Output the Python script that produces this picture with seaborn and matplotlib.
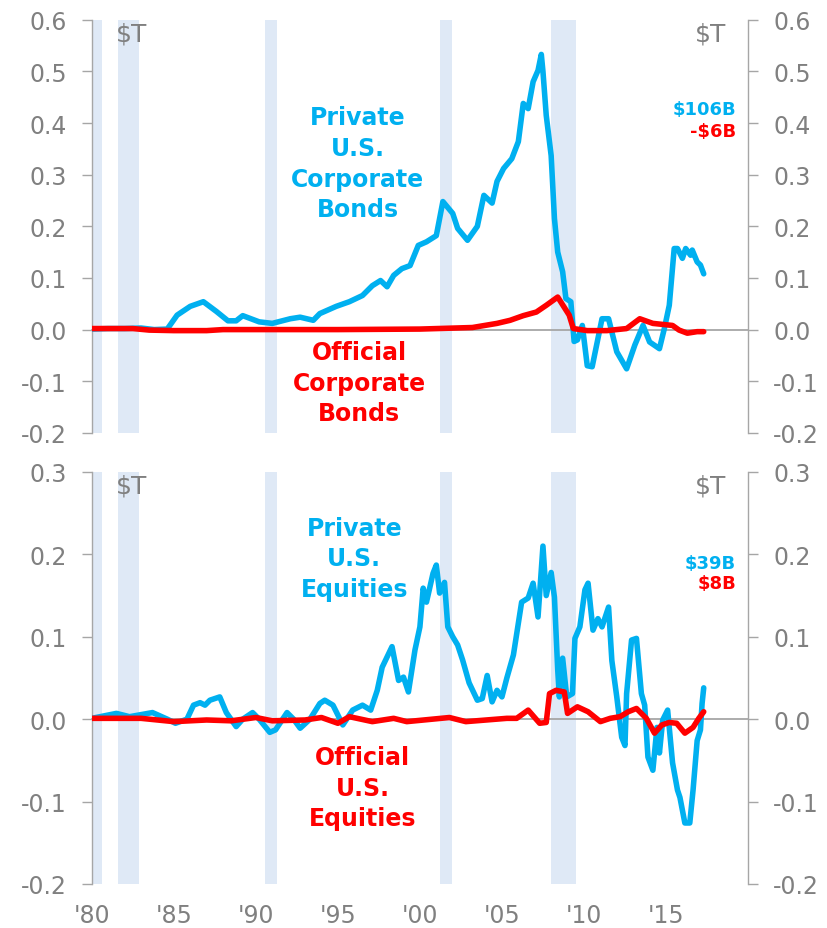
import numpy as np
import pandas as pd
import matplotlib
matplotlib.use("Agg")
import matplotlib.pyplot as plt
import seaborn as sns

# values, in $T
bond_priv_years = [1980.0, 1981.0, 1982.0, 1983.0, 1983.8, 1984.6, 1985.2, 1986.0, 1986.8, 1987.6,
                   1988.3, 1988.8, 1989.2, 1990.2, 1991.0, 1992.1, 1992.7, 1993.5, 1993.9, 1994.9,
                   1995.7, 1996.5, 1997.1, 1997.6, 1998.0, 1998.4, 1998.9, 1999.4, 1999.9, 2000.4,
                   2001.0, 2001.4, 2002.0, 2002.3, 2002.9, 2003.5, 2003.9, 2004.4, 2004.7, 2005.1,
                   2005.6, 2006.0, 2006.3, 2006.6, 2006.9, 2007.2, 2007.4, 2007.5, 2007.7, 2008.0,
                   2008.2, 2008.4, 2008.7, 2008.9, 2009.2, 2009.4, 2009.6, 2009.9, 2010.2, 2010.5,
                   2011.1, 2011.5, 2012.0, 2012.6, 2013.1, 2013.6, 2014.0, 2014.6, 2014.9, 2015.2,
                   2015.5, 2015.7, 2016.0, 2016.2, 2016.5, 2016.6, 2016.9, 2017.1, 2017.3]
bond_priv = [0.001, 0.002, 0.002, 0.003, 0.000, 0.001, 0.028, 0.045, 0.054, 0.035,
             0.017, 0.017, 0.027, 0.015, 0.012, 0.021, 0.024, 0.018, 0.031, 0.045,
             0.054, 0.066, 0.085, 0.095, 0.083, 0.105, 0.118, 0.124, 0.163, 0.170,
             0.182, 0.248, 0.225, 0.196, 0.173, 0.200, 0.260, 0.245, 0.287, 0.312,
             0.331, 0.364, 0.438, 0.428, 0.480, 0.502, 0.533, 0.500, 0.415, 0.337,
             0.215, 0.150, 0.112, 0.060, 0.054, -0.023, -0.020, 0.008, -0.070, -0.072,
             0.021, 0.021, -0.043, -0.076, -0.030, 0.008, -0.024, -0.037, 0.002, 0.047,
             0.157, 0.157, 0.138, 0.157, 0.144, 0.154, 0.131, 0.125, 0.108]

bond_off_years = [1980.0, 1982.5, 1983.5, 1985.0, 1987.0, 1988.0, 1995.0, 2000.0, 2003.2, 2004.7,
                  2005.5, 2006.3, 2007.1, 2007.7, 2008.4, 2009.1, 2009.35, 2010.2, 2011.4, 2012.6,
                  2013.4, 2014.2, 2014.8, 2015.4, 2015.8, 2016.3, 2016.9, 2017.3]
bond_off = [0.002, 0.002, -0.001, -0.002, -0.002, 0.000, 0.000, 0.001, 0.004, 0.012,
            0.018, 0.027, 0.034, 0.047, 0.063, 0.028, 0.002, -0.002, -0.002, 0.002,
            0.021, 0.012, 0.010, 0.008, -0.001, -0.007, -0.004, -0.004]

eq_priv_years = [1980.0, 1981.5, 1982.3, 1983.7, 1984.6, 1985.1, 1985.8, 1986.2, 1986.6, 1986.9,
                 1987.2, 1987.8, 1988.2, 1988.8, 1989.2, 1989.8, 1990.2, 1990.85, 1991.2, 1991.9,
                 1992.3, 1992.7, 1993.3, 1993.9, 1994.2, 1994.7, 1995.3, 1995.9, 1996.5, 1997.0,
                 1997.4, 1997.7, 1998.3, 1998.7, 1999.0, 1999.3, 1999.7, 2000.0, 2000.2, 2000.4,
                 2000.8, 2001.0, 2001.2, 2001.5, 2001.7, 2002.0, 2002.3, 2002.6, 2003.0, 2003.5,
                 2003.8, 2004.1, 2004.4, 2004.7, 2005.0, 2005.3, 2005.7, 2006.2, 2006.6, 2006.9,
                 2007.2, 2007.5, 2007.7, 2008.0, 2008.2, 2008.4, 2008.5, 2008.7, 2008.95, 2009.3,
                 2009.45, 2009.75, 2010.06, 2010.25, 2010.55, 2010.85, 2011.1, 2011.5, 2011.7, 2012.0,
                 2012.3, 2012.5, 2012.6, 2012.9, 2013.2, 2013.5, 2013.7, 2013.9, 2014.2, 2014.45,
                 2014.6, 2014.8, 2015.1, 2015.4, 2015.7, 2015.85, 2016.15, 2016.45, 2016.65, 2016.9,
                 2017.1, 2017.2, 2017.3]
eq_priv = [0.001, 0.007, 0.003, 0.008, 0.000, -0.005, 0.000, 0.017, 0.020, 0.017,
           0.023, 0.027, 0.008, -0.009, 0.000, 0.008, 0.000, -0.016, -0.013, 0.008,
           0.000, -0.011, 0.000, 0.019, 0.023, 0.017, -0.007, 0.011, 0.017, 0.011,
           0.035, 0.063, 0.088, 0.047, 0.051, 0.033, 0.084, 0.112, 0.159, 0.142,
           0.177, 0.187, 0.153, 0.166, 0.112, 0.100, 0.090, 0.072, 0.044, 0.023,
           0.025, 0.053, 0.021, 0.035, 0.027, 0.050, 0.078, 0.142, 0.147, 0.165,
           0.124, 0.210, 0.150, 0.178, 0.148, 0.060, 0.027, 0.074, 0.027, 0.031,
           0.098, 0.112, 0.157, 0.165, 0.108, 0.122, 0.112, 0.136, 0.071, 0.027,
           -0.022, -0.032, 0.031, 0.096, 0.098, 0.031, 0.017, -0.046, -0.062, -0.010,
           -0.041, -0.001, 0.011, -0.053, -0.086, -0.095, -0.126, -0.126, -0.086, -0.026,
           -0.013, 0.019, 0.038]

eq_off_years = [1980.0, 1983.0, 1984.5, 1985.0, 1987.0, 1988.5, 1990.0, 1991.0, 1993.0, 1994.0,
                1995.0, 1995.7, 1997.1, 1998.4, 1999.2, 2001.8, 2002.8, 2005.3, 2005.9, 2006.6,
                2007.3, 2007.7, 2007.9, 2008.3, 2008.8, 2009.0, 2009.6, 2010.25, 2011.0, 2011.6,
                2012.2, 2012.7, 2013.2, 2013.8, 2014.3, 2014.75, 2015.2, 2015.65, 2016.15, 2016.65,
                2017.0, 2017.3]
eq_off = [0.001, 0.001, -0.002, -0.003, -0.001, -0.002, 0.002, -0.002, -0.001, 0.002,
          -0.005, 0.003, -0.003, 0.001, -0.003, 0.002, -0.003, 0.001, 0.001, 0.011,
          -0.005, -0.004, 0.031, 0.035, 0.033, 0.007, 0.015, 0.009, -0.003, 0.001,
          0.003, 0.009, 0.013, 0.001, -0.017, -0.007, -0.004, -0.005, -0.017, -0.010,
          0.001, 0.009]

recession_start = [1980.0, 1981.6, 1990.55, 2001.2, 2008.0]
recession_end = [1980.6, 1982.9, 1991.3, 2001.95, 2009.5]

year_ticks = [1980, 1985, 1990, 1995, 2000, 2005, 2010, 2015]
year_labels = ["'80", "'85", "'90", "'95", "'00", "'05", "'10", "'15"]

BLUE = "#00B0F0"
RED = "#FF0000"
GREY = "#808080"
SPINE = "#A6A6A6"
SHADE = "#DFE9F6"

sns.set_style("white")
plt.rcParams["font.family"] = ["DejaVu Sans"]
plt.rcParams["axes.unicode_minus"] = False

fig = plt.figure(figsize=(8.27, 9.29), dpi=100)
ax1 = fig.add_axes([0.111, 0.533, 0.7935, 0.4446])
ax2 = fig.add_axes([0.111, 0.0474, 0.7935, 0.4435])


def style_panel(ax, ylim, step, show_xlabels):
    for s, e in zip(recession_start, recession_end):
        ax.axvspan(s, e, color=SHADE, lw=0, zorder=0)
    ax.set_xlim(1980, 2020)
    ax.set_ylim(*ylim)
    yt = np.round(np.arange(ylim[0], ylim[1] + step / 2, step), 1)
    ax.set_yticks(yt)
    ax.set_yticklabels([f"{v:.1f}" for v in yt])
    ax.tick_params(axis="y", left=True, right=True, labelleft=True, labelright=True,
                   direction="out", length=7, width=1, color=SPINE, labelsize=17,
                   labelcolor=GREY, pad=11)
    ax.spines["top"].set_visible(False)
    for side in ["left", "right"]:
        ax.spines[side].set_color(SPINE)
        ax.spines[side].set_linewidth(1)
    # zero line carries the x tick marks
    ax.spines["bottom"].set_position(("data", 0))
    ax.spines["bottom"].set_color(SPINE)
    ax.spines["bottom"].set_linewidth(1.3)
    ax.set_xticks(year_ticks)
    ax.tick_params(axis="x", direction="out", length=7, width=1, color=SPINE,
                   labelbottom=False)
    if show_xlabels:
        sec = ax.secondary_xaxis(0.0)
        sec.set_xticks(year_ticks)
        sec.set_xticklabels(year_labels)
        sec.tick_params(length=0, labelsize=17, labelcolor=GREY, pad=14)
        sec.spines["bottom"].set_visible(False)
    ax.set_xlabel("")
    ax.set_ylabel("")
    ax.text(0.036, 0.997, "$T", transform=ax.transAxes, ha="left", va="top",
            fontsize=18, color=GREY)
    ax.text(0.967, 0.997, "$T", transform=ax.transAxes, ha="right", va="top",
            fontsize=18, color=GREY)


# top panel: corporate bonds
df_bp = pd.DataFrame({"year": bond_priv_years, "value": bond_priv})
df_bo = pd.DataFrame({"year": bond_off_years, "value": bond_off})
sns.lineplot(data=df_bp, x="year", y="value", ax=ax1, color=BLUE, lw=4.0, zorder=3)
sns.lineplot(data=df_bo, x="year", y="value", ax=ax1, color=RED, lw=4.0, zorder=4)
style_panel(ax1, (-0.2, 0.6), 0.1, False)
ax1.text(1996.2, 0.322, "Private\nU.S.\nCorporate\nBonds", ha="center", va="center",
         fontsize=17, fontweight="bold", color=BLUE, linespacing=1.35)
ax1.text(1996.3, -0.103, "Official\nCorporate\nBonds", ha="center", va="center",
         fontsize=17, fontweight="bold", color=RED, linespacing=1.35)
ax1.text(0.982, 0.428, "$106B", transform=ax1.get_yaxis_transform(), ha="right",
         va="center", fontsize=13, fontweight="bold", color=BLUE)
ax1.text(0.982, 0.384, "-$6B", transform=ax1.get_yaxis_transform(), ha="right",
         va="center", fontsize=13, fontweight="bold", color=RED)

# bottom panel: equities
df_ep = pd.DataFrame({"year": eq_priv_years, "value": eq_priv})
df_eo = pd.DataFrame({"year": eq_off_years, "value": eq_off})
sns.lineplot(data=df_ep, x="year", y="value", ax=ax2, color=BLUE, lw=4.0, zorder=3)
sns.lineplot(data=df_eo, x="year", y="value", ax=ax2, color=RED, lw=4.0, zorder=4)
style_panel(ax2, (-0.2, 0.3), 0.1, True)
ax2.text(1996.0, 0.195, "Private\nU.S.\nEquities", ha="center", va="center",
         fontsize=17, fontweight="bold", color=BLUE, linespacing=1.35)
ax2.text(1996.5, -0.083, "Official\nU.S.\nEquities", ha="center", va="center",
         fontsize=17, fontweight="bold", color=RED, linespacing=1.35)
ax2.text(0.982, 0.19, "$39B", transform=ax2.get_yaxis_transform(), ha="right",
         va="center", fontsize=13, fontweight="bold", color=BLUE)
ax2.text(0.982, 0.165, "$8B", transform=ax2.get_yaxis_transform(), ha="right",
         va="center", fontsize=13, fontweight="bold", color=RED)

fig.savefig("out.png", dpi=100)
